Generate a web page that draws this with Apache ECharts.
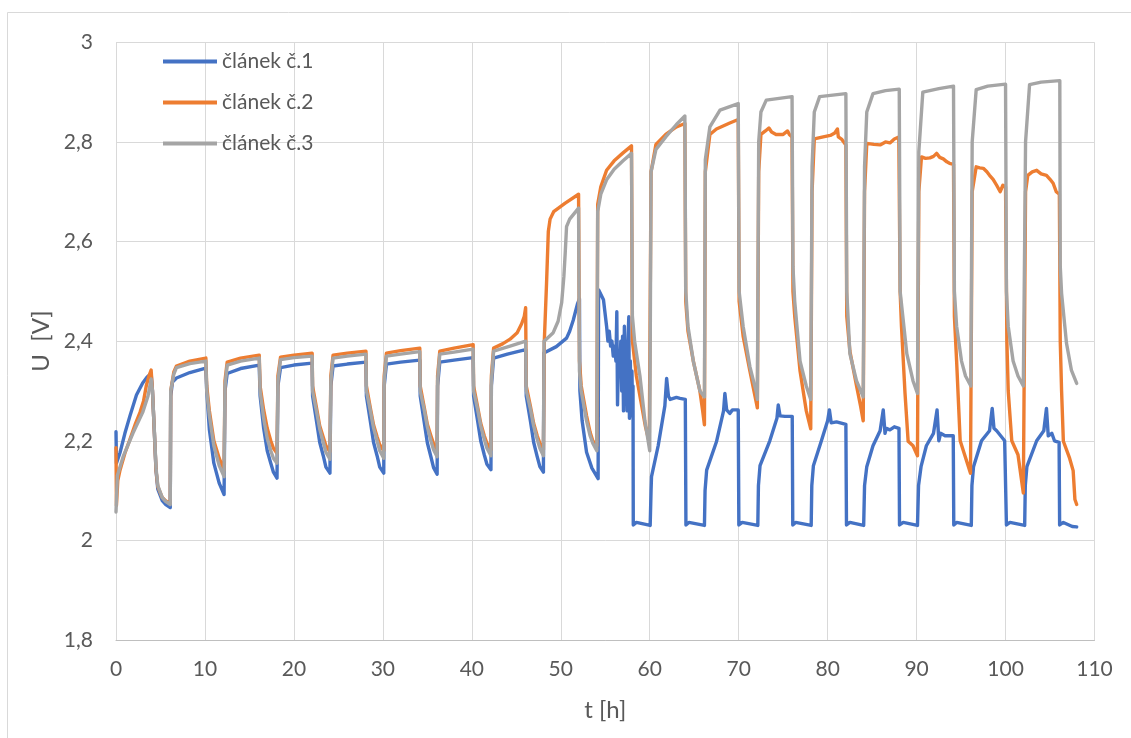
<!DOCTYPE html>
<html>
<head>
<meta charset="utf-8">
<script src="https://cdn.jsdelivr.net/npm/echarts@6/dist/echarts.min.js"></script>
<style>
html,body{margin:0;padding:0;background:#fff;}
#chart{width:1131px;height:738px;}
</style>
</head>
<body>
<div id="chart"></div>
<script>
// Series names
const seriesNames = ['článek č.1', 'článek č.2', 'článek č.3'];

// článek č.1 : [t (h), U (V)]
const cell1 = [
[0,2.218],[0.05,2.155],[0.45,2.176],[1.0,2.215],[1.57,2.25],[2.3,2.292],[3.0,2.316],[3.5,2.328],[3.95,2.335],
[4.1,2.30],[4.3,2.222],[4.5,2.14],[4.7,2.103],[5.2,2.08],[5.6,2.072],[6.1,2.066],
[6.15,2.29],[6.35,2.318],[6.8,2.326],[8.3,2.337],[10.1,2.346],
[10.2,2.30],[10.5,2.222],[11.0,2.155],[11.6,2.115],[12.15,2.092],
[12.25,2.30],[12.5,2.335],[14,2.345],[16.1,2.352],
[16.2,2.29],[16.6,2.225],[17.0,2.18],[17.4,2.155],[17.7,2.137],[18.1,2.125],
[18.2,2.31],[18.5,2.347],[20,2.352],[22.05,2.356],
[22.1,2.29],[22.55,2.238],[22.9,2.197],[23.3,2.17],[23.6,2.147],[24.05,2.135],
[24.15,2.31],[24.4,2.35],[26,2.354],[28.1,2.358],
[28.15,2.29],[28.6,2.238],[28.95,2.197],[29.35,2.17],[29.65,2.147],[30.1,2.135],
[30.15,2.31],[30.4,2.354],[32,2.358],[34.15,2.362],
[34.2,2.29],[34.65,2.237],[35.0,2.196],[35.4,2.168],[35.7,2.146],[36.1,2.133],
[36.15,2.31],[36.4,2.358],[38,2.362],[40.15,2.367],
[40.2,2.29],[40.65,2.24],[41.0,2.2],[41.4,2.172],[41.7,2.153],[42.15,2.142],
[42.2,2.31],[42.45,2.366],[44,2.374],[46.05,2.383],
[46.12,2.29],[46.6,2.238],[46.95,2.197],[47.35,2.168],[47.65,2.148],[48.05,2.137],
[48.1,2.376],[49.5,2.389],[50.65,2.406],[51.0,2.42],[51.4,2.442],[51.9,2.476],[52.1,2.485],
[52.15,2.30],[52.4,2.24],[52.9,2.177],[53.5,2.145],[54.2,2.124],
[54.25,2.503],[54.8,2.483],[55.15,2.43],[55.3,2.40],[55.45,2.42],[55.6,2.39],[55.75,2.40],[55.9,2.37],
[56.05,2.39],[56.2,2.36],[56.3,2.459],[56.38,2.272],[56.5,2.38],[56.65,2.35],[56.75,2.40],[56.85,2.30],
[56.95,2.41],[57.05,2.26],[57.15,2.43],[57.25,2.28],[57.35,2.37],[57.45,2.26],[57.55,2.40],[57.65,2.449],
[57.72,2.245],[57.82,2.36],[57.9,2.25],[58.0,2.34],[58.08,2.25],[58.12,2.31],
[58.15,2.031],[58.5,2.036],[60.05,2.03],
[60.15,2.10],[60.2,2.128],[60.95,2.19],[61.7,2.27],[61.9,2.325],[62.1,2.29],[62.3,2.283],[63.0,2.287],[63.4,2.285],[64.0,2.283],
[64.07,2.031],[64.4,2.036],[66.15,2.03],
[66.22,2.10],[66.4,2.141],[67.5,2.198],[68.3,2.26],[68.45,2.295],[68.65,2.262],[69.0,2.255],[69.3,2.262],[69.95,2.262],
[70.02,2.031],[70.4,2.036],[72.15,2.03],
[72.22,2.11],[72.4,2.15],[73.5,2.20],[74.3,2.245],[74.45,2.272],[74.65,2.25],[75.2,2.249],[76.02,2.249],
[76.08,2.031],[76.4,2.036],[78.15,2.03],
[78.22,2.11],[78.4,2.15],[79.3,2.20],[80.0,2.24],[80.2,2.262],[80.4,2.236],[81.0,2.238],[82.05,2.233],
[82.12,2.031],[82.5,2.036],[84.05,2.03],
[84.15,2.11],[84.4,2.148],[85.1,2.19],[85.9,2.22],[86.25,2.262],[86.45,2.215],[86.6,2.225],[87.0,2.222],[87.5,2.228],[88.02,2.225],
[88.08,2.031],[88.5,2.036],[90.1,2.03],
[90.22,2.11],[90.5,2.148],[91.1,2.19],[91.9,2.215],[92.3,2.262],[92.5,2.20],[92.7,2.215],[93.2,2.21],[94.12,2.21],
[94.18,2.031],[94.5,2.036],[96.15,2.03],
[96.22,2.11],[96.4,2.148],[97.3,2.20],[98.2,2.22],[98.5,2.265],[98.7,2.225],[99.0,2.22],[99.9,2.20],[100.05,2.20],
[100.1,2.031],[100.5,2.036],[102.15,2.03],
[102.22,2.11],[102.4,2.148],[103.5,2.20],[104.3,2.22],[104.6,2.265],[104.8,2.21],[105.2,2.215],[105.5,2.20],[106.02,2.197],
[106.08,2.031],[106.5,2.036],[107.0,2.032],[107.5,2.028],[108.0,2.027]
];

// článek č.2 : [t (h), U (V)]
const cell2 = [
[0,2.186],[0.05,2.07],[0.2,2.12],[0.45,2.141],[1.0,2.175],[1.57,2.203],[2.2,2.235],[2.7,2.257],[3.1,2.28],[3.4,2.31],[3.7,2.33],[3.95,2.342],
[4.1,2.30],[4.3,2.222],[4.5,2.141],[4.7,2.108],[5.2,2.086],[5.6,2.079],[6.1,2.075],
[6.15,2.30],[6.5,2.338],[6.8,2.35],[8.3,2.36],[10.1,2.366],
[10.2,2.31],[10.5,2.26],[11.0,2.20],[11.6,2.165],[12.15,2.141],
[12.25,2.32],[12.5,2.358],[14,2.366],[16.1,2.372],
[16.2,2.31],[16.6,2.262],[17.0,2.225],[17.4,2.2],[17.7,2.185],[18.1,2.175],
[18.2,2.33],[18.5,2.368],[20,2.372],[22.05,2.376],
[22.1,2.31],[22.55,2.265],[22.9,2.23],[23.3,2.207],[23.6,2.19],[24.05,2.178],
[24.15,2.33],[24.4,2.372],[26,2.376],[28.1,2.38],
[28.15,2.31],[28.6,2.265],[28.95,2.232],[29.35,2.208],[29.65,2.192],[30.1,2.18],
[30.15,2.33],[30.4,2.376],[32,2.381],[34.15,2.386],
[34.2,2.31],[34.65,2.267],[35.0,2.233],[35.4,2.21],[35.7,2.194],[36.1,2.18],
[36.15,2.33],[36.4,2.38],[38,2.386],[40.15,2.393],
[40.2,2.31],[40.65,2.268],[41.0,2.235],[41.4,2.21],[41.7,2.195],[42.15,2.182],
[42.2,2.33],[42.45,2.386],[43.5,2.395],[44.3,2.404],[45.1,2.417],[45.6,2.435],[45.9,2.45],[46.05,2.467],
[46.12,2.31],[46.6,2.268],[46.95,2.235],[47.35,2.21],[47.65,2.195],[48.05,2.182],
[48.15,2.40],[48.4,2.516],[48.6,2.62],[48.8,2.645],[49.2,2.66],[50.5,2.677],[52.0,2.695],
[52.1,2.36],[52.3,2.31],[52.9,2.25],[53.3,2.217],[53.6,2.20],[54.05,2.19],
[54.15,2.675],[54.5,2.71],[55.15,2.743],[56.0,2.762],[57.0,2.778],[57.95,2.792],
[58.05,2.40],[58.5,2.33],[59.0,2.28],[59.5,2.23],[59.95,2.197],
[60.15,2.74],[60.7,2.795],[61.8,2.815],[63.0,2.83],[63.95,2.837],
[64.05,2.48],[64.3,2.42],[64.9,2.36],[65.64,2.30],[65.95,2.26],[66.15,2.232],
[66.25,2.74],[66.76,2.815],[67.5,2.826],[69.0,2.838],[69.95,2.845],
[70.05,2.48],[70.5,2.41],[71.26,2.34],[72.0,2.275],[72.1,2.266],
[72.25,2.74],[72.5,2.815],[73.0,2.822],[73.4,2.828],[73.7,2.82],[74.2,2.815],[75.0,2.815],[75.5,2.822],[75.7,2.815],[76.0,2.81],
[76.1,2.50],[76.3,2.45],[76.9,2.34],[77.6,2.26],[78.1,2.224],
[78.25,2.70],[78.5,2.806],[79.5,2.81],[80.3,2.813],[80.8,2.818],[81.1,2.826],[81.2,2.81],[81.6,2.805],[82.05,2.794],
[82.15,2.45],[82.5,2.38],[83.25,2.31],[83.7,2.27],[84.0,2.24],
[84.15,2.70],[84.4,2.797],[85.2,2.795],[85.9,2.794],[86.5,2.80],[87.0,2.798],[87.5,2.806],[88.0,2.81],
[88.15,2.50],[88.3,2.43],[88.7,2.295],[89.05,2.199],[89.6,2.19],[90.1,2.17],
[90.25,2.70],[90.55,2.77],[91.0,2.767],[91.5,2.768],[91.9,2.771],[92.25,2.777],[92.6,2.769],[93.0,2.766],[93.4,2.76],[93.7,2.757],[94.15,2.755],
[94.25,2.45],[94.5,2.36],[94.9,2.20],[95.4,2.172],[96.06,2.135],
[96.25,2.70],[96.7,2.75],[97.1,2.748],[97.5,2.747],[97.9,2.74],[98.2,2.733],[98.6,2.725],[99.0,2.713],[99.2,2.71],[99.4,2.70],[99.7,2.713],[100.0,2.71],
[100.15,2.40],[100.3,2.30],[100.7,2.20],[101.4,2.172],[102.0,2.095],
[102.25,2.70],[102.5,2.733],[103.0,2.74],[103.5,2.743],[104.0,2.736],[104.6,2.733],[105.0,2.725],[105.35,2.717],[105.7,2.70],[106.05,2.695],
[106.15,2.40],[106.3,2.30],[106.5,2.199],[107.2,2.165],[107.6,2.14],[107.8,2.082],[108.0,2.072]
];

// článek č.3 : [t (h), U (V)]
const cell3 = [
[0,2.057],[0.15,2.13],[0.8,2.168],[1.9,2.215],[3.0,2.257],[3.6,2.29],[3.95,2.324],
[4.1,2.30],[4.3,2.225],[4.5,2.145],[4.7,2.11],[5.2,2.086],[5.6,2.078],[6.1,2.072],
[6.15,2.30],[6.5,2.334],[6.8,2.347],[8.3,2.355],[10.1,2.36],
[10.2,2.30],[10.5,2.25],[11.0,2.19],[11.6,2.15],[12.15,2.128],
[12.25,2.31],[12.5,2.352],[14,2.36],[16.1,2.366],
[16.2,2.30],[16.6,2.245],[17.0,2.205],[17.4,2.18],[17.7,2.165],[18.1,2.155],
[18.2,2.32],[18.5,2.363],[20,2.367],[22.05,2.37],
[22.1,2.30],[22.55,2.258],[22.9,2.224],[23.3,2.197],[23.6,2.177],[24.05,2.163],
[24.15,2.32],[24.4,2.366],[26,2.37],[28.1,2.374],
[28.15,2.30],[28.6,2.26],[28.95,2.226],[29.35,2.2],[29.65,2.18],[30.1,2.165],
[30.15,2.32],[30.4,2.37],[32,2.374],[34.15,2.379],
[34.2,2.30],[34.65,2.262],[35.0,2.228],[35.4,2.2],[35.7,2.182],[36.1,2.168],
[36.15,2.32],[36.4,2.374],[38,2.378],[40.15,2.384],
[40.2,2.30],[40.65,2.263],[41.0,2.23],[41.4,2.203],[41.7,2.185],[42.15,2.17],
[42.2,2.32],[42.45,2.38],[44.3,2.39],[46.05,2.40],
[46.12,2.30],[46.6,2.263],[46.95,2.23],[47.35,2.203],[47.65,2.185],[48.05,2.17],
[48.12,2.40],[49.15,2.417],[49.7,2.44],[50.1,2.477],[50.35,2.53],[50.5,2.577],[50.65,2.63],[51.0,2.645],[52.0,2.667],
[52.1,2.34],[52.3,2.30],[52.9,2.24],[53.3,2.21],[53.6,2.195],[54.05,2.18],
[54.15,2.66],[54.5,2.695],[55.15,2.724],[56.0,2.745],[57.0,2.762],[57.95,2.777],
[58.05,2.45],[58.3,2.40],[58.9,2.33],[59.46,2.24],[60.0,2.18],
[60.15,2.74],[60.7,2.785],[61.8,2.81],[63.0,2.835],[63.95,2.852],
[64.05,2.50],[64.3,2.43],[64.9,2.36],[65.64,2.30],[66.15,2.288],
[66.25,2.764],[66.76,2.83],[67.9,2.864],[69.95,2.877],
[70.05,2.50],[70.5,2.43],[71.26,2.349],[72.0,2.296],[72.1,2.283],
[72.25,2.80],[72.5,2.86],[73.1,2.884],[76.0,2.891],
[76.1,2.55],[76.3,2.48],[76.9,2.36],[77.6,2.31],[78.1,2.283],
[78.25,2.75],[78.5,2.86],[79.1,2.891],[82.05,2.897],
[82.15,2.50],[82.5,2.375],[83.25,2.32],[84.0,2.288],
[84.15,2.75],[84.4,2.86],[85.1,2.897],[86.5,2.903],[88.05,2.906],
[88.15,2.50],[88.9,2.375],[89.6,2.32],[90.1,2.295],
[90.25,2.78],[90.7,2.90],[92.5,2.907],[94.15,2.912],
[94.25,2.50],[94.5,2.43],[95.05,2.36],[95.5,2.33],[96.1,2.31],
[96.25,2.80],[96.7,2.905],[98.0,2.912],[100.0,2.916],
[100.1,2.50],[100.3,2.43],[100.85,2.36],[101.4,2.33],[102.0,2.31],
[102.25,2.80],[102.7,2.915],[104.0,2.92],[106.1,2.923],
[106.15,2.55],[106.3,2.496],[106.85,2.396],[107.4,2.342],[108.0,2.315]
];

const seriesColors = ['#4472C4', '#ED7D31', '#A5A5A5'];
const seriesData = [cell1, cell2, cell3];

const FONT = 'Lato, "Noto Sans", sans-serif';
const TXT = '#595959';

const chart = echarts.init(document.getElementById('chart'), null, {renderer: 'canvas'});
chart.setOption({
  animation: false,
  backgroundColor: '#ffffff',
  graphic: [{
    type: 'rect', silent: true, z: -10,
    shape: {x: 7.5, y: 12.5, width: 1300, height: 900},
    style: {fill: 'none', stroke: '#d9d9d9', lineWidth: 1}
  }],
  grid: {left: 116, right: 36.5, top: 42.3, bottom: 98, containLabel: false},
  legend: {
    orient: 'vertical', left: 163, top: 51, padding: 0,
    itemWidth: 54, itemHeight: 4, itemGap: 20, icon: 'rect',
    textStyle: {fontFamily: FONT, fontSize: 21, color: TXT, lineHeight: 20},
    data: seriesNames
  },
  xAxis: {
    type: 'value', min: 0, max: 110, interval: 10,
    name: 't [h]', nameLocation: 'middle', nameGap: 58,
    nameTextStyle: {fontFamily: FONT, fontSize: 24, color: TXT},
    axisLine: {show: true, lineStyle: {color: '#bfbfbf', width: 1}},
    axisTick: {show: false},
    axisLabel: {fontFamily: FONT, fontSize: 21, color: TXT, margin: 19},
    splitLine: {show: true, lineStyle: {color: '#d9d9d9', width: 1}}
  },
  yAxis: {
    type: 'value', min: 1.8, max: 3, interval: 0.2,
    name: 'U  [V]', nameLocation: 'middle', nameGap: 62, nameRotate: 90,
    nameTextStyle: {fontFamily: FONT, fontSize: 24, color: TXT},
    axisLine: {show: false},
    axisTick: {show: false},
    axisLabel: {
      fontFamily: FONT, fontSize: 21, color: TXT, margin: 23,
      formatter: v => String(Math.round(v * 10) / 10).replace('.', ',')
    },
    splitLine: {show: true, lineStyle: {color: '#d9d9d9', width: 1}}
  },
  series: seriesNames.map((n, i) => ({
    name: n, type: 'line', data: seriesData[i],
    showSymbol: false, symbol: 'none', smooth: false,
    color: seriesColors[i],
    lineStyle: {color: seriesColors[i], width: 3.4, join: 'round', cap: 'round'},
    z: 2 + i
  }))
});
</script>
</body>
</html>
